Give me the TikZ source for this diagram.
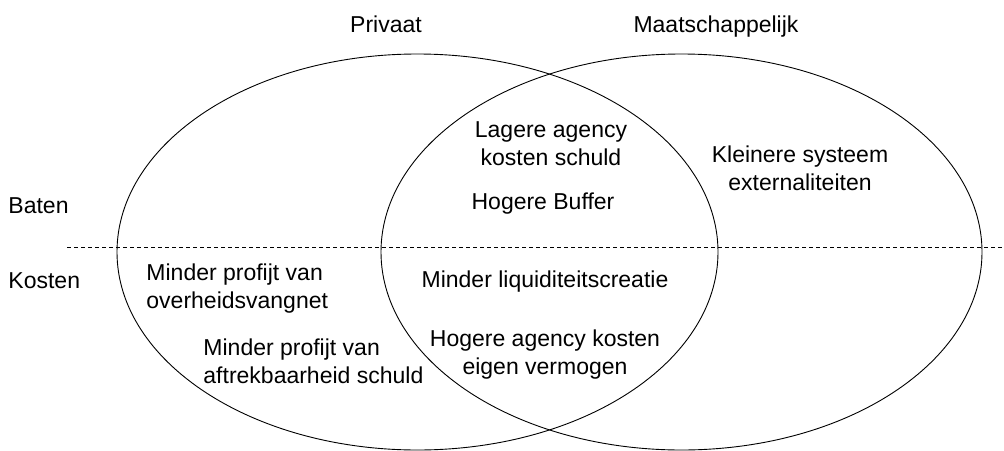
\documentclass[tikz,border=0pt]{standalone}
\usepackage{fontspec}
\setmainfont{Liberation Sans}

\begin{document}
\begin{tikzpicture}[x=1pt, y=-1pt, line width=0.9pt,
    lbl/.style={font=\fontsize{23}{28}\selectfont, inner sep=0pt, align=center, anchor=base},
    lbllinks/.style={lbl, align=left, anchor=base west}]
    % Variabelen
    \def\rx{300.5}  % halve breedte ellips
    \def\ry{198}    % halve hoogte ellips

    \useasboundingbox (0,0) rectangle (1004,450);

    % Ellipsen: privaat (links) en maatschappelijk (rechts)
    \coordinate (P) at (417.5,252);
    \coordinate (M) at (681.5,252);
    \draw (P) ellipse ({\rx} and {\ry});
    \draw (M) ellipse ({\rx} and {\ry});

    % Scheiding baten / kosten
    \draw[dash pattern=on 4pt off 3pt] (67,247) -- (1004,247);

    % Koppen (base = onderste regel)
    \node[lbl] (privaat) at (386,32) {Privaat};
    \node[lbl] (maatsch) at (716,32) {Maatschappelijk};
    \node[lbllinks] (baten) at (8,213) {Baten};
    \node[lbllinks] (kosten) at (8,288) {Kosten};

    % Baten
    \node[lbl] (lagere) at (551,165) {Lagere agency\\kosten schuld};
    \node[lbl] (buffer) at (543,209) {Hogere Buffer};
    \node[lbl] (klein) at (800,190) {Kleinere systeem\\externaliteiten};

    % Kosten
    \node[lbllinks] (vangnet) at (146,308) {Minder profijt van\\overheidsvangnet};
    \node[lbllinks] (aftrek) at (203,383) {Minder profijt van\\aftrekbaarheid schuld};
    \node[lbl] (liquid) at (545,287) {Minder liquiditeitscreatie};
    \node[lbl] (eigen) at (545,374) {Hogere agency kosten\\eigen vermogen};
\end{tikzpicture}
\end{document}
